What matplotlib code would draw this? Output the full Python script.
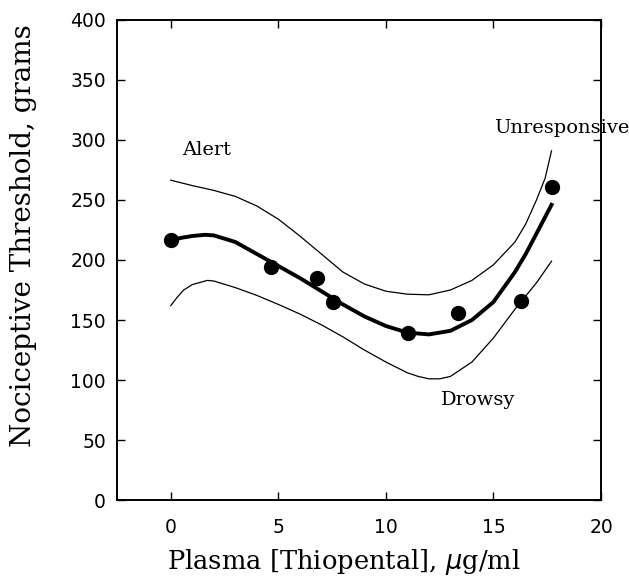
import matplotlib
matplotlib.use("Agg")
import matplotlib.pyplot as plt

# Observed data points
conc = [0.0, 4.65, 6.8, 7.55, 11.05, 13.35, 16.3, 17.7]
threshold = [216.5, 194, 185, 165, 139.5, 156, 165.5, 261]

# Fitted curve and confidence limits
fit_x = [0, 0.5, 1, 1.6, 2, 3, 4, 5, 6, 7, 8, 9, 10, 11, 12, 13, 14, 15, 16, 16.5, 17, 17.7]
fit_y = [216.5, 218.5, 220, 221, 220.5, 215, 205, 195, 185, 174, 163, 153, 145,
         139.5, 138, 141, 150, 165, 190, 205, 222, 246]

upper_x = [0, 1, 2, 3, 4, 5, 6, 7, 8, 9, 10, 11, 12, 13, 14, 15, 16, 16.5, 17, 17.4, 17.7]
upper_y = [266.5, 262, 258, 253, 245, 234, 220, 205, 190, 180, 174, 171.5,
           171, 175, 183, 196, 215, 230, 250, 268, 291]

lower_x = [0, 0.3, 0.6, 1, 1.7, 2, 3, 4, 5, 6, 7, 8, 9, 10, 11, 11.5, 12, 12.5, 13, 14, 15, 16, 17, 17.7]
lower_y = [162, 169, 175, 179.5, 183, 182.5, 177, 170.5, 163, 155, 146, 136, 125,
           115, 106, 103, 101, 101, 103, 115, 135, 159, 181, 199]

xticks = [0, 5, 10, 15, 20]
yticks = [0, 50, 100, 150, 200, 250, 300, 350, 400]

fig = plt.figure(figsize=(6.29, 5.77), dpi=100)
ax = fig.add_axes([0.186, 0.1334, 0.7695, 0.832])

ax.plot(upper_x, upper_y, color='black', linewidth=0.9)
ax.plot(lower_x, lower_y, color='black', linewidth=0.9)
ax.plot(fit_x, fit_y, color='black', linewidth=2.8)
ax.plot(conc, threshold, 'o', color='black', markersize=10)

ax.set_xlim(-2.5, 20)
ax.set_ylim(0, 400)
ax.set_xticks(xticks)
ax.set_yticks(yticks)
ax.tick_params(direction='in', length=6, width=1, top=True, right=True,
               labelsize=13.5)
ax.tick_params(axis='x', pad=13)
ax.tick_params(axis='y', pad=8)
for s in ax.spines.values():
    s.set_linewidth(1.4)

serif = 'DejaVu Serif'
# axis titles placed to match the original layout
fig.text(344 / 629, 1 - 562 / 577, r'Plasma [Thiopental], $\mu$g/ml',
         family=serif, fontsize=18.5, ha='center', va='center')
fig.text(24 / 629, 1 - 236 / 577, 'Nociceptive Threshold, grams',
         family=serif, fontsize=20, rotation=90, ha='center', va='center')

ax.text(0.55, 292, 'Alert', family=serif, fontsize=14, va='center')
ax.text(15.05, 310, 'Unresponsive', family=serif, fontsize=14, va='center', clip_on=False)
ax.text(12.55, 83, 'Drowsy', family=serif, fontsize=14, va='center')

fig.savefig('out.png', dpi=100)
